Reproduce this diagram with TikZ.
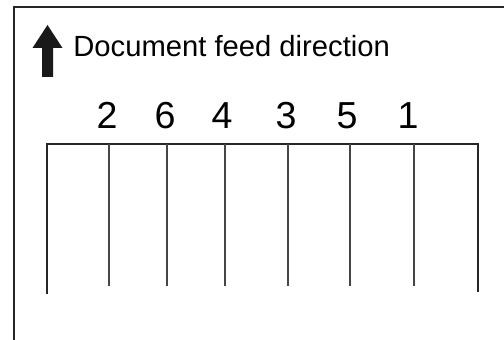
\documentclass[tikz,border=0pt]{standalone}
\usepackage{fontspec}
\setmainfont{Liberation Sans}
\usetikzlibrary{calc}

\begin{document}
\begin{tikzpicture}[
  x=0.5pt, y=-0.5pt,
  frameline/.style={black!85, line width=1.1pt},
  slotline/.style={gray!55!black, line width=0.55pt},
  slotnum/.style={font=\fontsize{18.8}{20}\selectfont, anchor=base, inner sep=0pt}
]
\useasboundingbox (0,0) rectangle (504,340);
% page frame
\draw[frameline] (14,340) -- (14,7) -- (504,7);
% feed arrow
\fill[black!90] (42,77) -- (42,48) -- (32.5,48) -- (47.5,25) -- (62.5,48) -- (53,48) -- (53,77) -- cycle;
\node[anchor=base west, inner sep=0pt, font=\fontsize{14.6}{17}\selectfont] (feed) at (73,57) {Document feed direction};
% tray outline
\coordinate (trayL) at (47,144);
\coordinate (trayR) at (478,144);
\draw[frameline] (trayL |- 0,294) -- (trayL) -- (trayR) -- (trayR |- 0,292);
% dividers and their numbers
\foreach \x/\c/\n in {109/107/2,167/165/6,225/222/4,288/286/3,350/347/5,414/408/1}{
  \coordinate (top\n) at (\x,144);
  \draw[slotline] (top\n) -- ++(0,142);
  \node[slotnum] (num\n) at (\c,129) {\n};
}
\end{tikzpicture}
\end{document}
